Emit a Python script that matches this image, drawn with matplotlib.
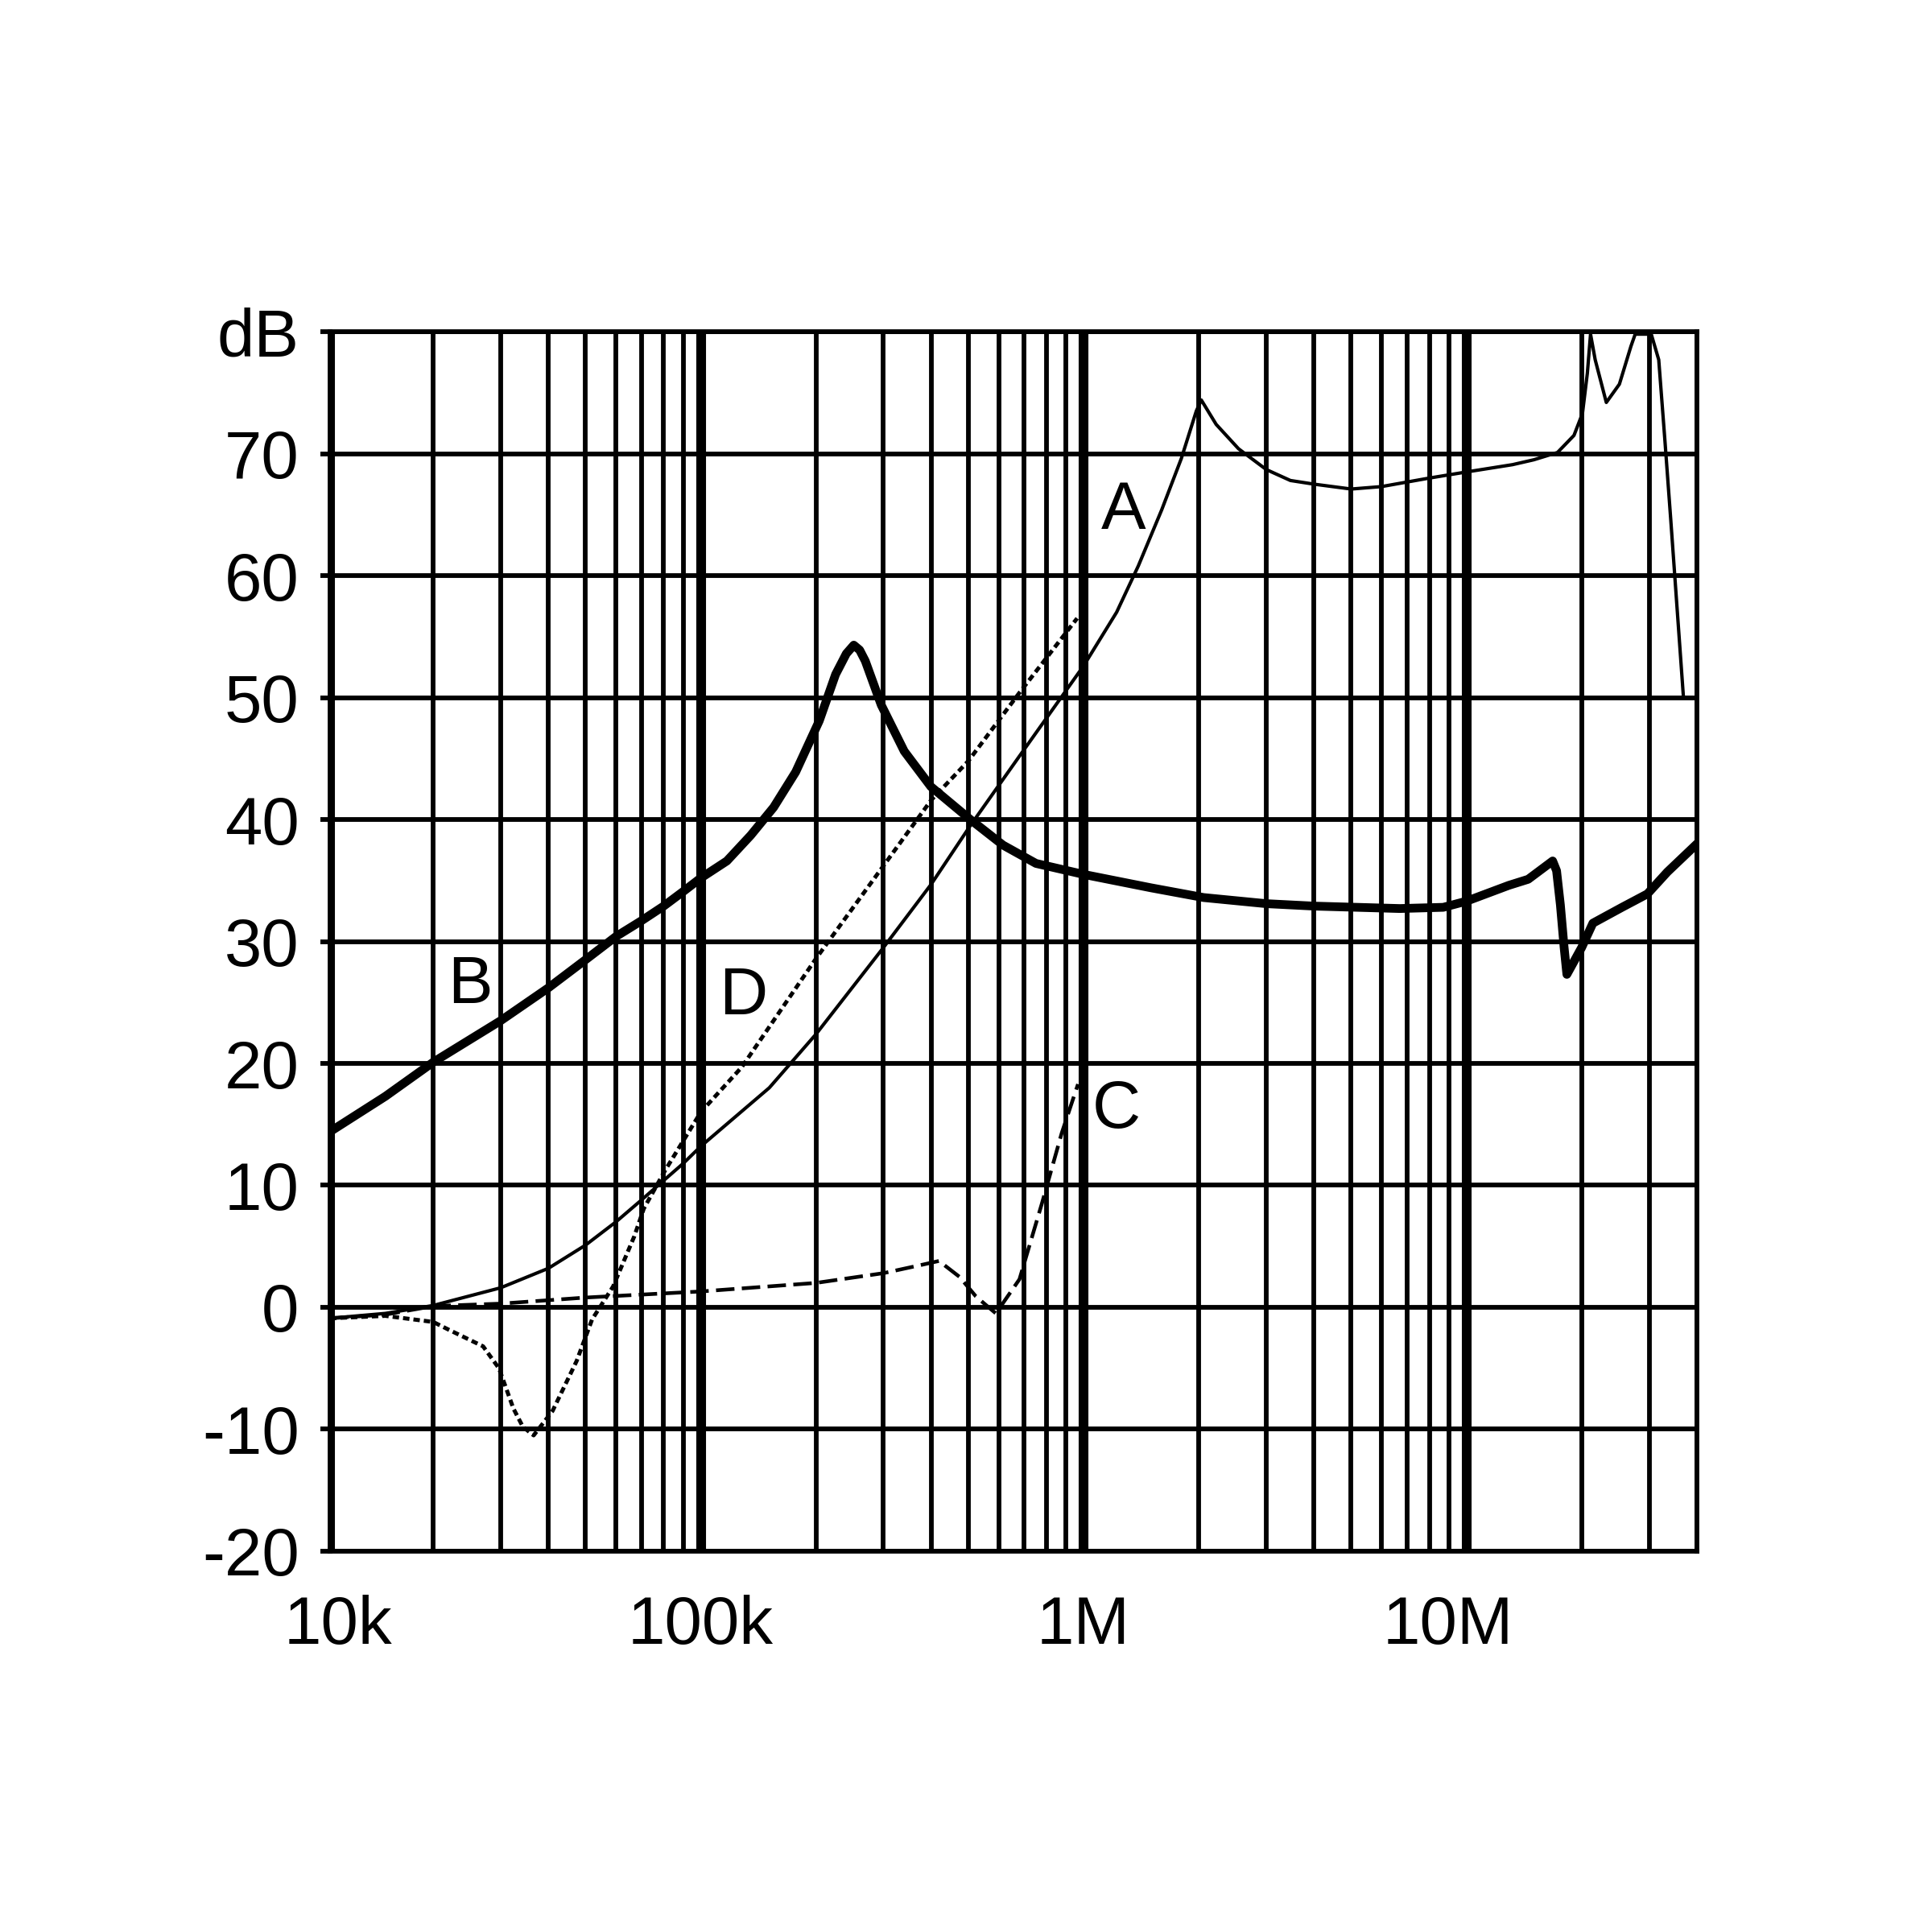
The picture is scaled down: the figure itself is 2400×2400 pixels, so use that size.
import matplotlib
matplotlib.use("Agg")
import matplotlib.pyplot as plt
from matplotlib.ticker import FixedLocator, FixedFormatter, LogLocator, NullFormatter
from matplotlib.transforms import ScaledTranslation

plt.rcParams['font.family'] = ['Liberation Sans', 'DejaVu Sans']

# axis range (left edge sits a bit above 10k in the original, labelled "10k")
x_left = 10.75e3
x_right = 40e6
xtick_pos = [x_left, 1e5, 1e6, 1e7]
xtick_labels = ['10k', '100k', '1M', '10M']
ytick_pos = [-20, -10, 0, 10, 20, 30, 40, 50, 60, 70, 80]
ytick_labels = ['-20', '-10', '0', '10', '20', '30', '40', '50', '60', '70', 'dB']

# curve A - thin solid
a_f = [10.75e3, 15e3, 20e3, 30e3, 40e3, 50e3, 60e3, 70e3, 80e3, 90e3, 100e3, 125e3,
       151e3, 200e3, 300e3, 400e3, 506e3, 680e3, 1e6, 1.22e6, 1.39e6, 1.6e6, 1.8e6,
       1.97e6, 2.03e6, 2.22e6, 2.54e6, 3e6, 3.47e6, 4e6, 5e6, 6e6, 8e6, 10e6, 13.2e6,
       15e6, 17.3e6, 19.1e6, 20.1e6, 20.7e6, 21.1e6, 21.7e6, 23.2e6, 25.1e6, 26.9e6,
       27.6e6, 30.4e6, 31.8e6, 33e6, 34.2e6, 35.2e6, 36.9e6]
a_db = [-0.9, -0.5, 0.15, 1.6, 3.2, 5.1, 7.0, 8.8, 10.4, 11.8, 13.2, 15.8,
        18.0, 22.4, 29.5, 34.7, 39.5, 45.2, 52.6, 57.0, 60.8, 65.4, 69.6,
        73.5, 74.4, 72.4, 70.4, 68.7, 67.8, 67.5, 67.1, 67.3, 68.0, 68.5, 69.1,
        69.5, 70.1, 71.5, 73.3, 76.6, 79.8, 77.7, 74.2, 75.7, 78.8,
        79.8, 79.8, 77.7, 71.1, 64.5, 59.0, 50.0]

# curve B - thick solid
b_f = [10.75e3, 15e3, 20e3, 30e3, 40e3, 50e3, 60e3, 70e3, 80e3, 90e3, 100e3, 117e3,
       135e3, 155e3, 177e3, 204e3, 225e3, 240e3, 251e3, 260e3, 269e3, 296e3, 340e3,
       399e3, 506e3, 616e3, 751e3, 1e6, 1.5e6, 2.06e6, 3e6, 4e6, 6.7e6, 8.7e6, 10e6,
       12.9e6, 14.5e6, 16.8e6, 17.2e6, 17.6e6, 18.0e6, 18.3e6, 20e6, 21.4e6, 25.5e6,
       29.7e6, 33.5e6, 40e6]
b_db = [14.4, 17.3, 20.1, 23.5, 26.2, 28.5, 30.4, 31.7, 32.9, 34.1, 35.2, 36.6,
        38.7, 41.0, 43.9, 48.1, 51.9, 53.6, 54.3, 53.9, 53.0, 49.4, 45.6,
        42.7, 40.0, 37.9, 36.4, 35.5, 34.4, 33.6, 33.1, 32.9, 32.7, 32.8, 33.3,
        34.6, 35.1, 36.6, 35.8, 33.0, 29.5, 27.3, 29.5, 31.5, 32.8,
        33.9, 35.7, 38.0]

# curve C - long dashes
c_f = [10.75e3, 15e3, 20e3, 30e3, 50e3, 100e3, 200e3, 300e3, 380e3, 419e3, 474e3,
       523e3, 560e3, 590e3, 680e3, 778e3, 877e3, 967e3]
c_db = [-0.9, -0.6, 0.1, 0.3, 0.8, 1.3, 2.0, 2.8, 3.5, 3.8, 2.5,
        0.9, 0.1, -0.5, 2.3, 8.5, 14.3, 18.3]

# curve D - short dashes
d_f = [10.75e3, 15e3, 20e3, 22e3, 27e3, 29.7e3, 32.4e3, 34.3e3, 36.6e3, 41e3, 47.4e3,
       52e3, 59e3, 67e3, 71e3, 80.6e3, 100e3, 128e3, 200e3, 300e3, 400e3, 500e3,
       680e3, 962e3]
d_db = [-0.9, -0.7, -1.2, -1.85, -3.2, -5.0, -8.3, -9.8, -10.5, -8.5, -4.4,
        -1.0, 1.7, 5.8, 8.1, 11.2, 16.0, 19.7, 28.6, 36.2, 41.6, 44.8,
        50.4, 56.5]

# curve labels
label_text = ['A', 'B', 'C', 'D']
label_f = [1.27e6, 25e3, 1.22e6, 129e3]
label_db = [65.3, 26.4, 16.2, 25.5]

fig = plt.figure(figsize=(8, 8), dpi=300)
ax = fig.add_axes([0.1708, 0.1971, 0.7075, 0.6312])

ax.set_xscale('log')
ax.set_xlim(x_left, x_right)
ax.set_ylim(-20, 80)

ax.xaxis.set_major_locator(FixedLocator(xtick_pos))
ax.xaxis.set_major_formatter(FixedFormatter(xtick_labels))
ax.xaxis.set_minor_locator(LogLocator(base=10, subs=range(2, 10)))
ax.xaxis.set_minor_formatter(NullFormatter())
ax.yaxis.set_major_locator(FixedLocator(ytick_pos))
ax.yaxis.set_major_formatter(FixedFormatter(ytick_labels))

ax.grid(which='major', axis='x', color='black', lw=2.9)
ax.grid(which='minor', axis='x', color='black', lw=1.4)
ax.grid(which='major', axis='y', color='black', lw=1.4)

ax.tick_params(axis='x', which='both', length=0, pad=13, labelsize=20)
ax.tick_params(axis='y', length=2.9, width=1.4, pad=6.3, labelsize=20)
for s in ax.spines.values():
    s.set_linewidth(1.4)

# small nudges of the x labels as in the original
lbls = ax.get_xticklabels()
lbls[0].set_transform(lbls[0].get_transform() + ScaledTranslation(2.5 / 72, 0, fig.dpi_scale_trans))
lbls[3].set_transform(lbls[3].get_transform() + ScaledTranslation(-5.5 / 72, 0, fig.dpi_scale_trans))

ax.plot(a_f, a_db, color='black', lw=1.0)
ax.plot(b_f, b_db, color='black', lw=2.6, solid_joinstyle='round')
ax.plot(c_f, c_db, color='black', lw=1.1, dashes=(5, 2))
ax.plot(d_f, d_db, color='black', lw=1.2, dashes=(1.6, 1.0))

for t, fx, dy in zip(label_text, label_f, label_db):
    ax.text(fx, dy, t, fontsize=20, ha='center', va='center')

fig.savefig('out.png', dpi=300, facecolor='white')
